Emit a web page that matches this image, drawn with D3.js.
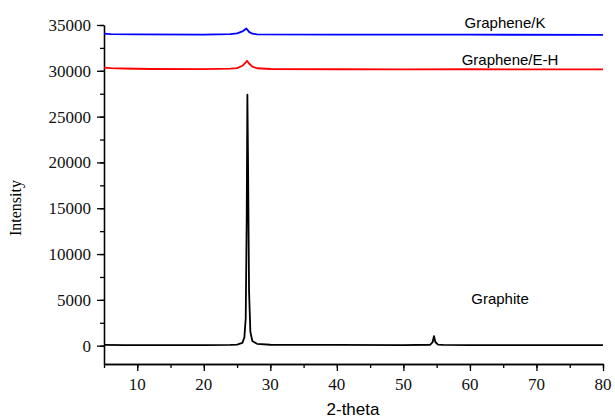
<!DOCTYPE html>
<html><head><meta charset="utf-8">
<script src="https://cdn.jsdelivr.net/npm/d3@7"></script>
<style>body{margin:0;background:#fff}svg{display:block}text.num{font-family:"Liberation Serif",serif;font-size:17px}</style>
</head><body>
<svg id="c" width="615" height="420"></svg>
<script>
const graphiteX = [5,8,10,15,20,24,25,25.8,26.1,26.3,26.45,26.55,26.65,26.8,27.0,27.3,28,30,40,50,54.0,54.4,54.6,54.8,55.2,56,60,70,80];
const graphiteY = [80,70,60,60,60,80,120,300,900,3000,14000,27400,20000,6000,1500,500,200,100,80,70,100,400,1050,400,120,80,70,60,60];
const ehX = [5,6,8,12,20,24,25,25.8,26.2,26.5,26.8,27.3,28,30,40,50,60,70,80];
const ehY = [30350,30300,30250,30200,30180,30230,30300,30550,30850,31080,30800,30450,30280,30200,30170,30160,30170,30160,30150];
const kX = [5,6,10,20,24,25,25.8,26.4,26.8,27.3,28,40,60,80];
const kY = [34050,34000,33980,33960,34000,34080,34300,34620,34250,34050,33980,33950,33940,33930];
const xTicks = [10,20,30,40,50,60,70,80];
const yTicks = [0,5000,10000,15000,20000,25000,30000,35000];
const labels = ["Graphite","Graphene/E-H","Graphene/K"];

const svg = d3.select("#c");
const x = d3.scaleLinear().domain([5,80]).range([104,603]);
const y = d3.scaleLinear().domain([-2000,35000]).range([364,25]);

const serif = "'Liberation Serif','Times New Roman',serif";
const xAxis = d3.axisBottom(x).tickValues(xTicks).tickFormat("").tickSize(7).tickSizeOuter(0);
const xMinor = d3.axisBottom(x).tickValues(d3.range(5,81,5)).tickSize(4).tickFormat("").tickSizeOuter(0);
const yAxis = d3.axisLeft(y).tickValues(yTicks).tickFormat("").tickSize(7).tickSizeOuter(0);
const yMinor = d3.axisLeft(y).tickValues(d3.range(0,35001,2500)).tickSize(4).tickFormat("").tickSizeOuter(0);

function styleAxis(g){
  g.selectAll("path,line").attr("stroke","#000").attr("stroke-width",1.3);
}
svg.append("g").attr("transform","translate(0,364)").call(xMinor).call(styleAxis);
svg.append("g").attr("transform","translate(0,364)").call(xAxis).call(styleAxis);
svg.append("g").attr("transform","translate(104,0)").call(yMinor).call(styleAxis);
svg.append("g").attr("transform","translate(104,0)").call(yAxis).call(styleAxis);

svg.selectAll("text.xl").data(xTicks).join("text").attr("class","num xl")
  .attr("font-family",serif).attr("font-size",17).attr("fill","#111")
  .attr("x",d=>x(d)).attr("y",390).attr("text-anchor","middle").text(d=>String(d));
svg.selectAll("text.yl").data(yTicks).join("text").attr("class","num yl")
  .attr("font-family",serif).attr("font-size",17).attr("fill","#111")
  .attr("x",91).attr("y",d=>y(d)+6).attr("text-anchor","end").text(d=>String(d));

const line = d3.line().x(d=>x(d[0])).y(d=>y(d[1]));
const series = [
  {xs:graphiteX, ys:graphiteY, c:"#000"},
  {xs:ehX, ys:ehY, c:"#ff0000"},
  {xs:kX, ys:kY, c:"#0000ff"}
];
series.forEach(s=>{
  svg.append("path").datum(d3.zip(s.xs,s.ys)).attr("d",line)
    .attr("fill","none").attr("stroke",s.c).attr("stroke-width",1.8).attr("stroke-linejoin","round");
});

const sans = "'Liberation Sans',Arial,sans-serif";
svg.append("text").attr("x",500).attr("y",304).attr("text-anchor","middle").attr("font-family",sans).attr("font-size",15).text(labels[0]);
svg.append("text").attr("x",510).attr("y",65).attr("text-anchor","middle").attr("font-family",sans).attr("font-size",15).text(labels[1]);
svg.append("text").attr("x",505).attr("y",28).attr("text-anchor","middle").attr("font-family",sans).attr("font-size",15).text(labels[2]);

svg.append("text").attr("x",353).attr("y",415).attr("text-anchor","middle").attr("font-family",sans).attr("font-size",17).text("2-theta");
svg.append("text").attr("transform","translate(21,208) rotate(-90)").attr("text-anchor","middle")
  .attr("font-family",serif).attr("font-size",16).text("Intensity");
</script>
</body></html>
